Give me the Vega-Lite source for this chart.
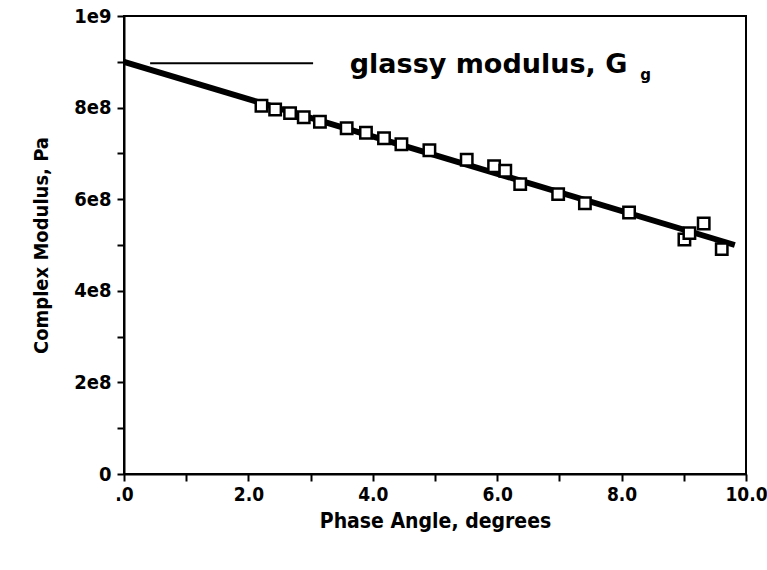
{
  "$schema": "https://vega.github.io/schema/vega-lite/v6.json",
  "width": 622,
  "height": 458,
  "autosize": {"type": "none"},
  "padding": {"left": 124, "top": 16, "right": 21, "bottom": 96},
  "background": "white",
  "config": {
    "view": {"stroke": "black", "strokeWidth": 2},
    "font": "DejaVu Sans Condensed, DejaVu Sans, sans-serif"
  },
  "datasets": {
    "fit": [
      {"angle": 0, "modulus": 900000000},
      {"angle": 9.82, "modulus": 500000000}
    ],
    "points": [
      {"angle": 2.21, "modulus": 804000000},
      {"angle": 2.43, "modulus": 796000000},
      {"angle": 2.67, "modulus": 788000000},
      {"angle": 2.89, "modulus": 779000000},
      {"angle": 3.15, "modulus": 769000000},
      {"angle": 3.58, "modulus": 755000000},
      {"angle": 3.89, "modulus": 745000000},
      {"angle": 4.18, "modulus": 733000000},
      {"angle": 4.46, "modulus": 720000000},
      {"angle": 4.91, "modulus": 707000000},
      {"angle": 5.51, "modulus": 686000000},
      {"angle": 5.95, "modulus": 672000000},
      {"angle": 6.13, "modulus": 662000000},
      {"angle": 6.37, "modulus": 633000000},
      {"angle": 6.98, "modulus": 611000000},
      {"angle": 7.41, "modulus": 591000000},
      {"angle": 8.12, "modulus": 571000000},
      {"angle": 9.01, "modulus": 512000000},
      {"angle": 9.09, "modulus": 526000000},
      {"angle": 9.32, "modulus": 547000000},
      {"angle": 9.61, "modulus": 491000000}
    ],
    "noteLine": [
      {"angle": 0.42, "modulus": 897000000},
      {"angle": 3.04, "modulus": 897000000}
    ],
    "noteText": [
      {"angle": 3.63, "modulus": 875000000, "label": "glassy modulus, G", "size": 27},
      {"angle": 8.3, "modulus": 860000000, "label": "g", "size": 15}
    ]
  },
  "encoding": {
    "x": {
      "field": "angle",
      "type": "quantitative",
      "scale": {"domain": [0, 10], "nice": false, "zero": false},
      "axis": {
        "title": "Phase Angle, degrees",
        "values": [0, 1, 2, 3, 4, 5, 6, 7, 8, 9, 10],
        "labelExpr": "datum.value % 2 == 0 ? (datum.value == 0 ? '.0' : format(datum.value, '.1f')) : ''",
        "grid": false,
        "domainColor": "black",
        "domainWidth": 2,
        "tickColor": "black",
        "tickWidth": 2,
        "tickSize": 7,
        "labelColor": "black",
        "labelFontSize": 19,
        "labelFontWeight": "bold",
        "labelPadding": 4,
        "labelFlush": false,
        "titleColor": "black",
        "titleFontSize": 21,
        "titleFontWeight": "bold",
        "titlePadding": 6
      }
    },
    "y": {
      "field": "modulus",
      "type": "quantitative",
      "scale": {"domain": [0, 1000000000], "nice": false},
      "axis": {
        "title": "Complex Modulus, Pa",
        "values": [0, 100000000, 200000000, 300000000, 400000000, 500000000, 600000000, 700000000, 800000000, 900000000, 1000000000],
        "labelExpr": "datum.value == 0 ? '0' : datum.value == 1000000000 ? '1e9' : (datum.value % 200000000 == 0 ? (datum.value / 100000000) + 'e8' : '')",
        "grid": false,
        "domainColor": "black",
        "domainWidth": 2,
        "tickColor": "black",
        "tickWidth": 2,
        "tickSize": 7,
        "labelColor": "black",
        "labelFontSize": 20,
        "labelFontWeight": "bold",
        "labelPadding": 6,
        "labelFlush": false,
        "titleColor": "black",
        "titleFontSize": 20,
        "titleFontWeight": "bold",
        "titlePadding": 22
      }
    }
  },
  "layer": [
    {
      "data": {"name": "fit"},
      "mark": {"type": "line", "color": "black", "strokeWidth": 6, "clip": true}
    },
    {
      "data": {"name": "noteLine"},
      "mark": {"type": "line", "color": "black", "strokeWidth": 2}
    },
    {
      "data": {"name": "points"},
      "mark": {"type": "point", "shape": "square", "filled": true, "fill": "white", "stroke": "black", "strokeWidth": 2.5, "size": 130, "opacity": 1}
    },
    {
      "data": {"name": "noteText"},
      "mark": {"type": "text", "align": "left", "baseline": "alphabetic", "font": "DejaVu Sans, sans-serif", "fontWeight": "bold", "color": "black"},
      "encoding": {
        "text": {"field": "label"},
        "size": {"field": "size", "type": "quantitative", "scale": null}
      }
    }
  ]
}
